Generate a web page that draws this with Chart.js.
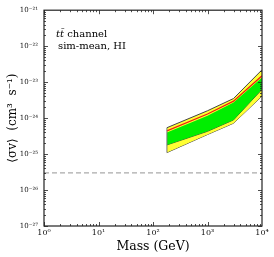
<!DOCTYPE html>
<html>
<head>
<meta charset="utf-8">
<script src="https://cdn.jsdelivr.net/npm/chart.js@4.4.1/dist/chart.umd.min.js"></script>
<style>
  html, body { margin: 0; padding: 0; background: #fff; }
  #wrap { width: 274px; height: 257px; }
</style>
</head>
<body>
<div id="wrap"><canvas id="c" width="274" height="257"></canvas></div>
<script>
// masses (GeV) and limits on <sigma v> (cm^3 s^-1)
const masses = [180, 1000, 3000, 10000];
const yellowTop = [5.4e-25, 1.6e-24, 3.5e-24, 2.2e-23];
const redLine = [4.4e-25, 1.3e-24, 2.95e-24, 1.5e-23];
const greenTop = [4.0e-25, 1.17e-24, 2.7e-24, 1.35e-23];
const greenBottom = [1.8e-25, 4.3e-25, 8.9e-25, 6.3e-24];
const yellowBottom = [1.1e-25, 3.5e-25, 7.2e-25, 4.1e-24];
const thermalMass = [1, 10000];
const thermalValue = [3e-26, 3e-26];
const xDecades = [1, 10, 100, 1000, 10000];
const yDecades = [1e-27, 1e-26, 1e-25, 1e-24, 1e-23, 1e-22, 1e-21];

const SUP = { "-": "\u207b", "0": "\u2070", "1": "\u00b9", "2": "\u00b2", "3": "\u00b3",
  "4": "\u2074", "5": "\u2075", "6": "\u2076", "7": "\u2077", "8": "\u2078", "9": "\u2079" };
function pow10Label(v) {
  const e = String(Math.round(Math.log10(v)));
  return "10" + e.split("").map(ch => SUP[ch]).join("");
}
function pts(xs, ys) { return xs.map((x, i) => ({ x, y: ys[i] })); }

const SERIF = "'DejaVu Serif', 'Liberation Serif', serif";
const EDGE = "#444";

// inward minor/major ticks on all four sides, frame and the text label
const frameTicks = {
  id: "frameTicks",
  afterDraw(chart) {
    const { ctx, chartArea: a, scales } = chart;
    ctx.save();
    ctx.strokeStyle = "#222";
    ctx.lineWidth = 0.8;
    const decadeRange = (lo, hi, fn) => {
      for (let d = Math.round(Math.log10(lo)); d < Math.round(Math.log10(hi)); d++) {
        for (let k = 1; k <= 9; k++) fn(k * Math.pow(10, d), k === 1);
      }
    };
    decadeRange(1, 10000, (v, major) => {
      const px = Math.round(scales.x.getPixelForValue(v)) + 0.5;
      const len = major ? 4 : 2;
      ctx.beginPath();
      ctx.moveTo(px, a.bottom); ctx.lineTo(px, a.bottom - len);
      ctx.moveTo(px, a.top); ctx.lineTo(px, a.top + len);
      ctx.stroke();
    });
    decadeRange(1e-27, 1e-21, (v, major) => {
      const py = Math.round(scales.y.getPixelForValue(v)) + 0.5;
      const len = major ? 4 : 2;
      ctx.beginPath();
      ctx.moveTo(a.left, py); ctx.lineTo(a.left + len, py);
      ctx.moveTo(a.right, py); ctx.lineTo(a.right - len, py);
      ctx.stroke();
    });
    ctx.lineWidth = 1.2;
    ctx.strokeRect(a.left, a.top, a.right - a.left, a.bottom - a.top);

    ctx.fillStyle = "#000";
    ctx.textBaseline = "middle";
    ctx.font = "italic 10px " + SERIF;
    ctx.fillText("tt\u0304", a.left + 12, a.top + 24);
    const w = ctx.measureText("tt\u0304").width;
    ctx.font = "10px " + SERIF;
    ctx.fillText(" channel", a.left + 12 + w, a.top + 24);
    ctx.fillText("sim-mean, HI", a.left + 14, a.top + 36);
    ctx.restore();
  }
};

const line = (data, extra) => Object.assign({
  data, borderWidth: 1, pointRadius: 0, tension: 0, fill: false
}, extra);

new Chart(document.getElementById("c"), {
  type: "line",
  data: {
    datasets: [
      line(pts(masses, redLine), { label: "observed", borderColor: "#ee2211", borderWidth: 1.3, order: 1 }),
      line(pts(masses, greenTop), { label: "68%", borderColor: "rgba(0,0,0,0)", borderWidth: 0,
        backgroundColor: "#00ee00", fill: 2, order: 2 }),
      line(pts(masses, greenBottom), { label: "68% low", borderColor: EDGE, order: 2 }),
      line(pts(masses, yellowTop), { label: "95%", borderColor: EDGE,
        backgroundColor: "#ffff33", fill: 4, order: 3 }),
      line(pts(masses, yellowBottom), { label: "95% low", borderColor: EDGE, order: 3 }),
      line(pts([masses[0], masses[0]], [yellowBottom[0], yellowTop[0]]), { label: "edge", borderColor: "#777", order: 0 }),
      line(pts(thermalMass, thermalValue), { label: "thermal", borderColor: "#aaaaaa", borderWidth: 1.2,
        borderDash: [5, 3], order: 4 })
    ]
  },
  options: {
    responsive: false,
    animation: false,
    layout: { padding: { top: 8, right: 12, left: 0, bottom: 0 } },
    plugins: {
      legend: { display: false },
      tooltip: { enabled: false }
    },
    scales: {
      x: {
        type: "logarithmic",
        min: 1, max: 10000,
        grid: { display: false, drawTicks: false },
        border: { display: false },
        afterBuildTicks: s => { s.ticks = xDecades.map(value => ({ value })); },
        afterFit: s => { s.height = 31; },
        ticks: { callback: v => pow10Label(v), font: { family: SERIF, size: 8 }, color: "#111",
          padding: 2, maxRotation: 0, autoSkip: false },
        title: { display: true, text: "Mass (GeV)", font: { family: SERIF, size: 12.5 }, color: "#000",
          padding: { top: 0, bottom: 3 } }
      },
      y: {
        type: "logarithmic",
        min: 1e-27, max: 1e-21,
        grid: { display: false, drawTicks: false },
        border: { display: false },
        afterBuildTicks: s => { s.ticks = yDecades.map(value => ({ value })); },
        afterFit: s => { s.width = 44; },
        ticks: { callback: v => pow10Label(v), font: { family: SERIF, size: 7 }, color: "#111",
          padding: 6, autoSkip: false },
        title: { display: true, text: "\u27e8\u03c3v\u27e9  (cm\u00b3  s\u207b\u00b9)", font: { family: SERIF, size: 12 },
          color: "#000", padding: { top: 6, bottom: 0 } }
      }
    }
  },
  plugins: [frameTicks]
});
</script>
</body>
</html>
